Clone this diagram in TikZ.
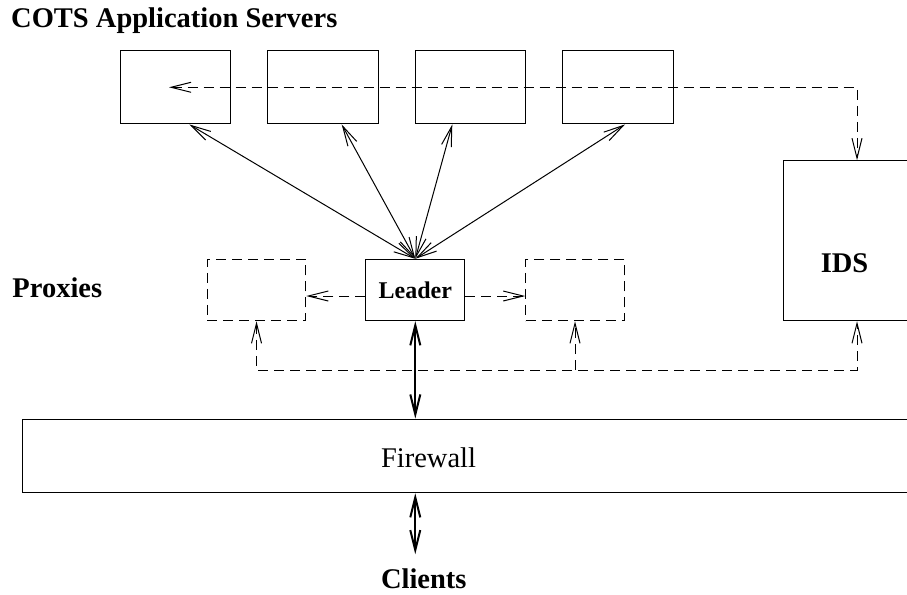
\documentclass[tikz,border=0pt]{standalone}
\usepackage{fontspec}
\setmainfont{Liberation Serif}
\usetikzlibrary{arrows.meta}
\begin{document}
\begin{tikzpicture}[x=1pt,y=-1pt,line width=1pt,>={Straight Barb[length=20pt,width=10pt]},
  box/.style={draw,minimum width=110.5pt,minimum height=73.3pt,inner sep=0pt},
  dsh/.style={dash pattern=on 10pt off 6pt},
  proxy/.style={draw,dsh,minimum width=98.5pt,minimum height=61.5pt,inner sep=0pt},
  lbl/.style={font=\fontsize{28.5}{34}\selectfont\bfseries,inner sep=0pt},
  fat/.style={line width=2pt}]
\useasboundingbox (0,0) rectangle (907,594);
\clip (0,0) rectangle (907,594);
%servers
\node[lbl,anchor=base west] (cots) at (10.7,27.3) {COTS Application Servers};
\node[box] (s1) at (175.5,87.3) {};
\node[box] (s2) at (323.2,87.3) {};
\node[box] (s3) at (470.6,87.3) {};
\node[box] (s4) at (618,87.3) {};
%proxies
\node[lbl,anchor=base west] (proxies) at (12,297) {Proxies};
\node[draw,minimum width=98.7pt,minimum height=61.4pt,inner sep=0pt,font=\fontsize{24}{28}\selectfont\bfseries] (leader) at (415.3,290) {Leader};
\node[proxy] (pl) at (256.5,290) {};
\node[proxy] (pr) at (575,290) {};
%ids
\node[draw,minimum width=148pt,minimum height=160pt,inner sep=0pt] (ids) at (857,240.7) {};
\node[lbl,anchor=base] (idstext) at (844.5,272.7) {IDS};
%firewall, clients
\node[draw,minimum width=977pt,minimum height=73.7pt,inner sep=0pt] (fw) at (511.2,455.9) {};
\node[font=\fontsize{28.5}{34}\selectfont,anchor=base,inner sep=0pt] (fwtext) at (428.5,467.3) {Firewall};
\node[lbl,anchor=base] (clients) at (423.8,588.5) {Clients};
\coordinate (bus) at (0,370);

\foreach \s/\dx in {s1/13.8,s2/18.5,s3/-18.3,s4/7}
  \draw[<->] ([xshift=\dx pt]\s.south) -- (leader.north);
\draw[dsh,<->] ([xshift=-6.5pt]s1.center) -| (ids.north);
\draw[dsh,->] ([yshift=-6pt]leader.west) -- ([yshift=-6pt]pl.east);
\draw[dsh,->] ([yshift=-6pt]leader.east) -- ([yshift=-6pt]pr.west);
\draw[dsh,<->] (pl.south) -- (pl.south |- bus) -| (ids.south);
\draw[dsh,->] (pr.south |- bus) -- (pr.south);
\draw[fat,<->] (leader.south) -- (leader.south |- fw.north);
\draw[fat,<->,shorten >=14pt] (leader.south |- fw.south) -- (leader.south |- clients.north);
\end{tikzpicture}
\end{document}
